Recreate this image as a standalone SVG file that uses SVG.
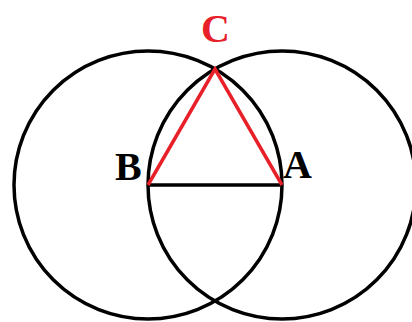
<svg xmlns="http://www.w3.org/2000/svg" width="412" height="322" viewBox="0 0 412 322">
<style>
.c{fill:none;stroke:#000;stroke-width:3.5}
.t{font-family:"Liberation Serif",serif;font-size:40px;font-weight:bold}
</style>
<rect width="412" height="322" fill="#fff"/>
<g id="circles">
<circle class="c" cx="148" cy="185" r="134"/>
<circle class="c" cx="282" cy="185" r="134"/>
</g>
<g id="connectors">
<line x1="148" y1="185" x2="282" y2="185" stroke="#000" stroke-width="3.5"/>
<polyline points="148,185 215,69 282,185" fill="none" stroke="#e8202a" stroke-width="3.5" stroke-linejoin="miter"/>
</g>
<g id="B"><text class="t" x="115" y="180">B</text></g>
<g id="A"><text class="t" x="283" y="178">A</text></g>
<g id="C"><text class="t" x="201" y="42" fill="#e8202a">C</text></g>
</svg>
